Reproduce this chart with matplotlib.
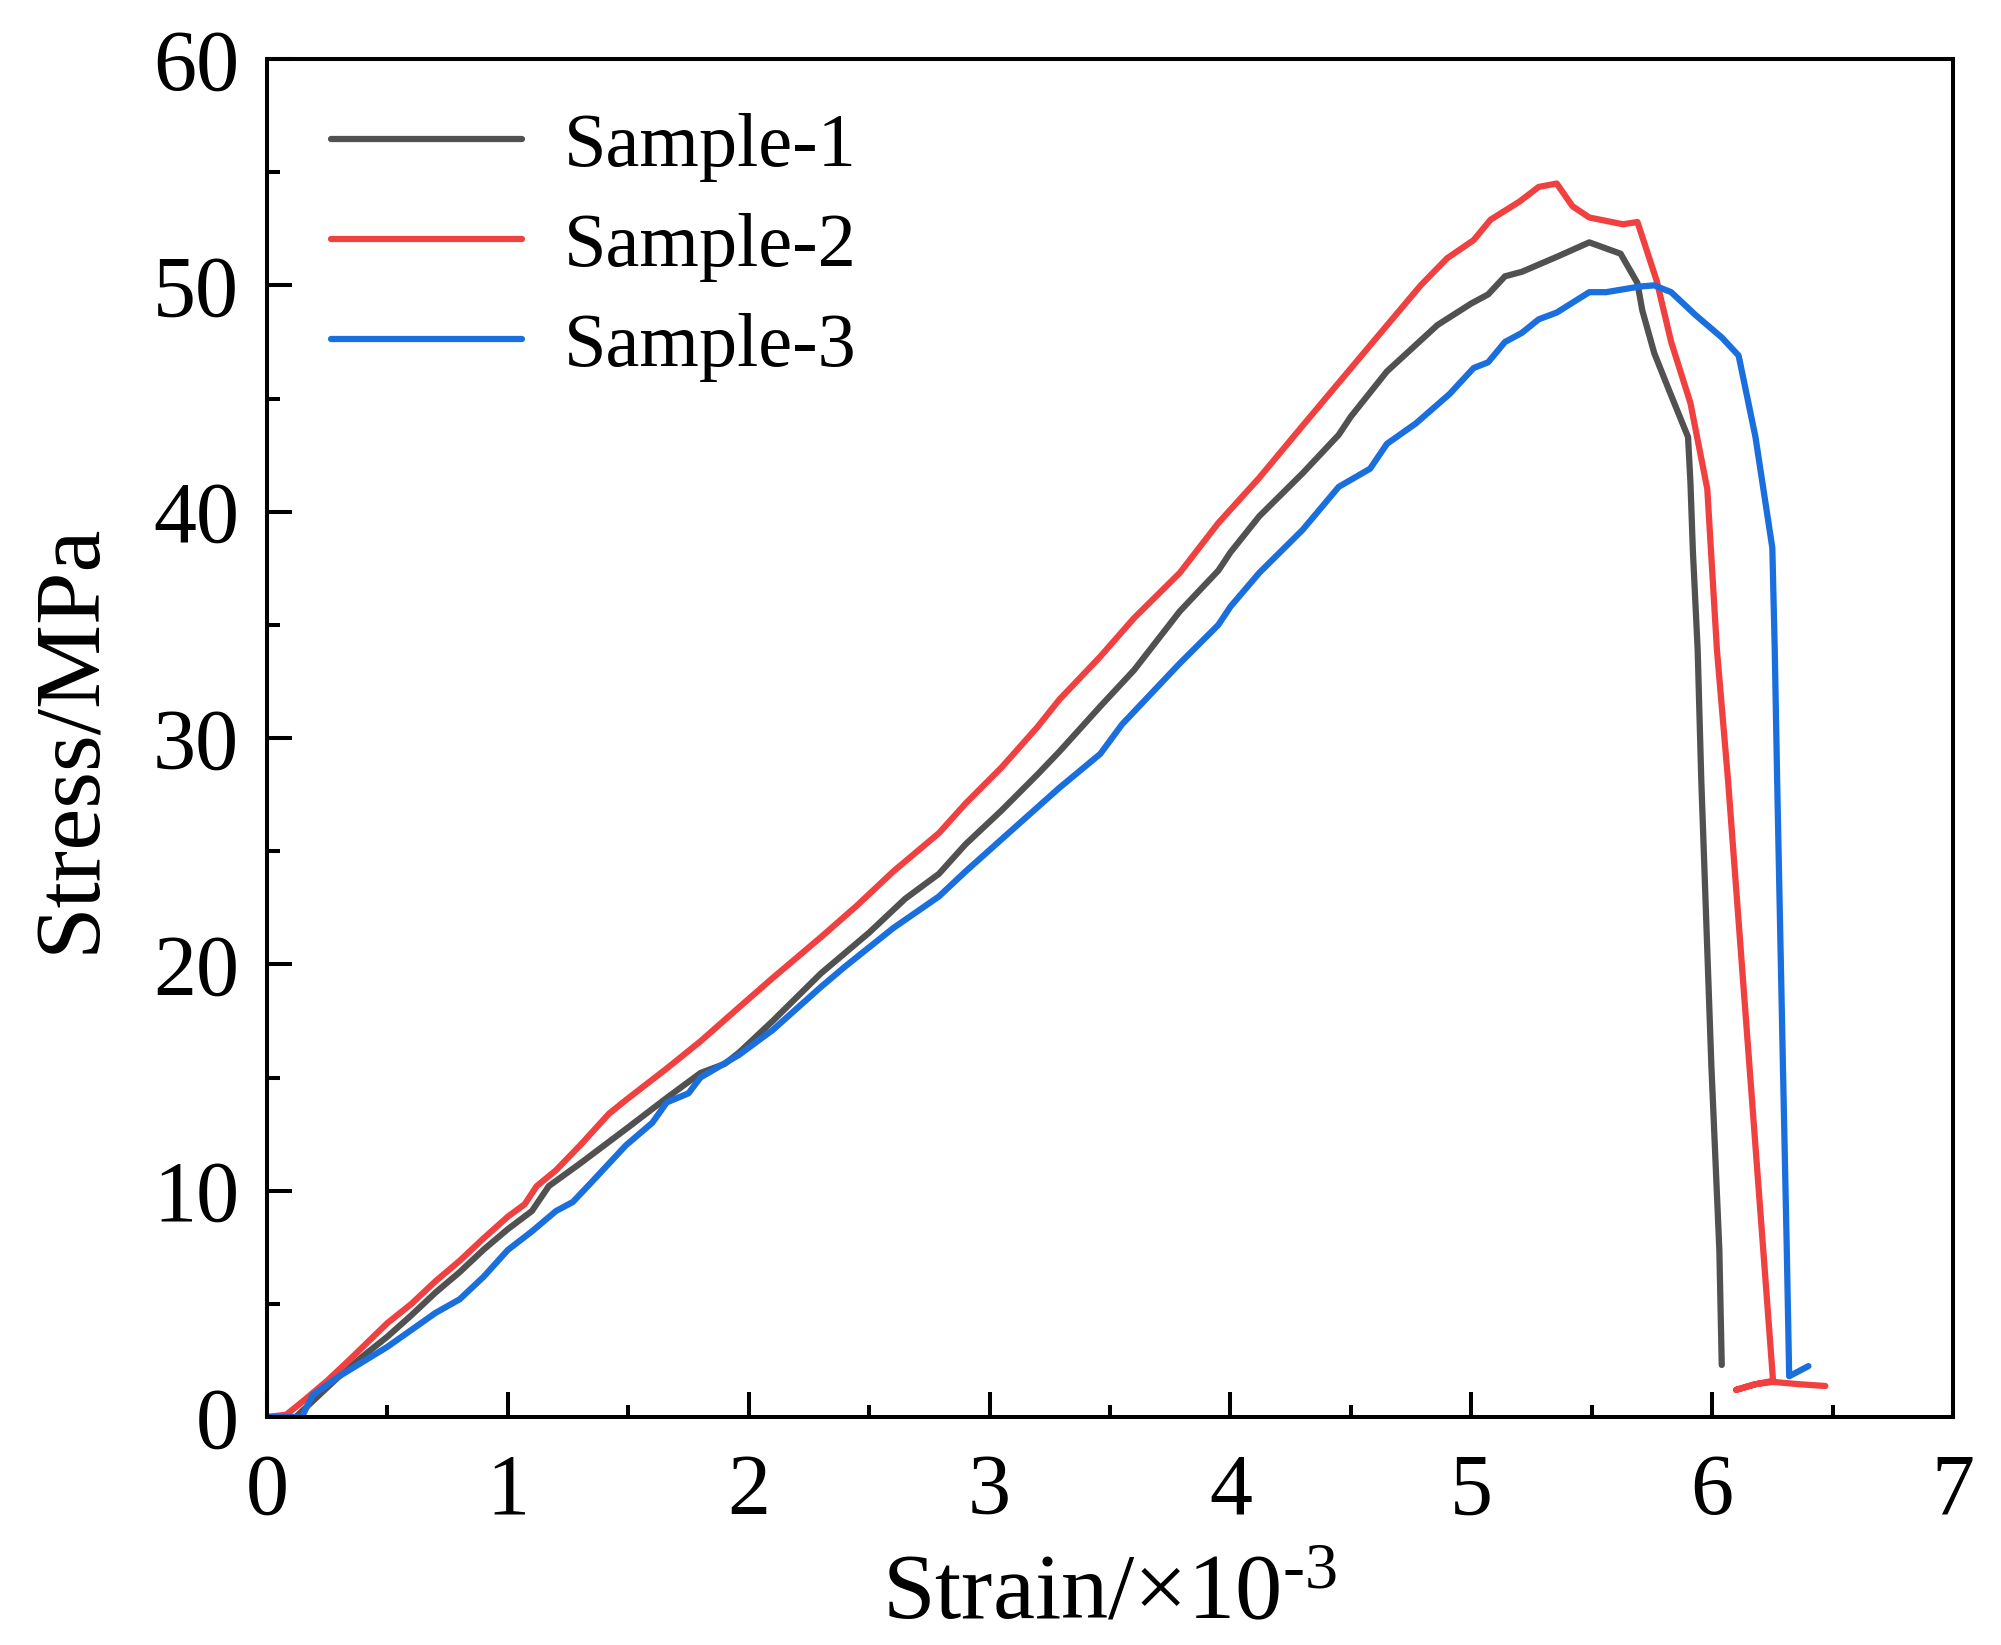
import matplotlib
matplotlib.use("Agg")
import matplotlib.pyplot as plt
from matplotlib.ticker import MultipleLocator

plt.rcParams['font.family'] = ['Liberation Serif', 'DejaVu Serif']
plt.rcParams['mathtext.fontset'] = 'custom'
plt.rcParams['mathtext.rm'] = 'Liberation Serif'
plt.rcParams['mathtext.it'] = 'Liberation Serif:italic'

labels = ["Sample-1", "Sample-2", "Sample-3"]
colors = ["#515151", "#F04040", "#1A6FDF"]

strain_1 = [0, 0.12, 0.2, 0.3, 0.4, 0.5, 0.6, 0.7, 0.8, 0.9, 1.0, 1.1, 1.17, 1.3, 1.4, 1.5, 1.66, 1.8, 1.9,
            1.96, 2.1, 2.3, 2.5, 2.65, 2.79, 2.9, 3.05, 3.2, 3.29, 3.46, 3.6, 3.79, 3.95, 4.0, 4.12, 4.3,
            4.45, 4.5, 4.65, 4.86, 5.0, 5.07, 5.14, 5.21, 5.355, 5.49, 5.62, 5.69, 5.71, 5.76, 5.82, 5.90,
            5.91, 5.92, 5.94, 5.955, 5.997, 6.03, 6.04]
stress_1 = [0, 0, 0.8, 1.8, 2.7, 3.55, 4.5, 5.5, 6.4, 7.4, 8.3, 9.1, 10.2, 11.2, 12.0, 12.8, 14.1, 15.2, 15.6,
            16.1, 17.5, 19.6, 21.4, 22.9, 24.0, 25.3, 26.8, 28.4, 29.4, 31.4, 33.0, 35.6, 37.4, 38.2, 39.8, 41.7,
            43.4, 44.2, 46.2, 48.25, 49.2, 49.6, 50.4, 50.6, 51.26, 51.9, 51.4, 50.1, 48.9, 47.0, 45.4, 43.3,
            41.3, 38.3, 33.9, 28.15, 15.5, 7.4, 2.3]

strain_2 = [0, 0.08, 0.15, 0.25, 0.35, 0.5, 0.6, 0.7, 0.8, 0.9, 1.0, 1.07, 1.12, 1.2, 1.3, 1.42, 1.49, 1.66,
            1.8, 1.96, 2.1, 2.3, 2.45, 2.6, 2.79, 2.9, 3.05, 3.2, 3.29, 3.46, 3.6, 3.79, 3.95, 4.12, 4.3, 4.45,
            4.6, 4.79, 4.9, 5.01, 5.08, 5.2, 5.28, 5.355, 5.42, 5.49, 5.63, 5.69, 5.77, 5.83, 5.91, 5.98, 6.02,
            6.066, 6.253, 6.18, 6.10, 6.18, 6.253, 6.36, 6.47]
stress_2 = [0, 0.1, 0.7, 1.6, 2.6, 4.15, 5.0, 6.0, 6.9, 7.9, 8.85, 9.4, 10.2, 10.9, 12.0, 13.4, 14.0, 15.4,
            16.6, 18.1, 19.4, 21.2, 22.6, 24.1, 25.8, 27.1, 28.7, 30.5, 31.7, 33.6, 35.3, 37.3, 39.5, 41.5, 43.8, 45.7,
            47.6, 50.0, 51.2, 52.0, 52.9, 53.7, 54.35, 54.5, 53.5, 53.0, 52.7, 52.8, 50.2, 47.5, 44.8, 41.0, 33.9,
            28.15, 1.6, 1.45, 1.2, 1.45, 1.55, 1.45, 1.37]

strain_3 = [0, 0.145, 0.19, 0.3, 0.5, 0.7, 0.8, 0.9, 1.0, 1.1, 1.2, 1.27, 1.35, 1.49, 1.6, 1.66, 1.75, 1.8,
            1.96, 2.1, 2.3, 2.4, 2.6, 2.79, 2.9, 3.1, 3.29, 3.46, 3.55, 3.79, 3.95, 4.0, 4.12, 4.3, 4.45, 4.58,
            4.65, 4.77, 4.91, 5.01, 5.07, 5.14, 5.21, 5.28, 5.355, 5.49, 5.56, 5.70, 5.76, 5.83, 5.93, 6.04,
            6.11, 6.18, 6.25, 6.26, 6.27, 6.294, 6.31, 6.32, 6.40]
stress_3 = [0, 0, 0.97, 1.8, 3.1, 4.6, 5.2, 6.2, 7.38, 8.2, 9.1, 9.5, 10.4, 12.0, 13.0, 13.9, 14.3, 15.0,
            16.0, 17.1, 19.0, 19.9, 21.6, 23.0, 24.1, 26.0, 27.8, 29.3, 30.6, 33.3, 35.0, 35.8, 37.3, 39.2, 41.1, 41.9,
            43.0, 43.9, 45.2, 46.35, 46.6, 47.5, 47.9, 48.5, 48.8, 49.7, 49.7, 49.95, 50.0, 49.7, 48.7, 47.7,
            46.9, 43.3, 38.4, 33.9, 28.15, 15.5, 7.4, 1.8, 2.25]

series = [(strain_1, stress_1), (strain_2, stress_2), (strain_3, stress_3)]

fig = plt.figure(figsize=(20.01, 16.45), dpi=100)
ax = fig.add_axes([0.1334, 0.1386, 0.976 - 0.1334, 0.9641 - 0.1386])

LW = 4.5
for (xs, ys), lab, c in zip(series, labels, colors):
    ax.plot(xs, ys, color=c, lw=LW, label=lab, solid_joinstyle='round', solid_capstyle='round')

ax.set_xlim(0, 7)
ax.set_ylim(0, 60)
ax.xaxis.set_major_locator(MultipleLocator(1))
ax.xaxis.set_minor_locator(MultipleLocator(0.5))
ax.yaxis.set_major_locator(MultipleLocator(10))
ax.yaxis.set_minor_locator(MultipleLocator(5))
ax.tick_params(which='both', direction='in', top=False, right=False, width=2.9, labelsize=62)
ax.tick_params(which='major', length=18)
ax.tick_params(which='minor', length=9)
ax.tick_params(axis='x', which='major', pad=26)
ax.tick_params(axis='y', which='major', pad=20)
for s in ax.spines.values():
    s.set_linewidth(2.9)

ax.set_xlabel(r'Strain/×10$^{\text{-3}}$', fontsize=68, labelpad=15)
ax.set_ylabel('Stress/MPa', fontsize=68, labelpad=28)

leg = ax.legend(loc='upper left', bbox_to_anchor=(0.02, 0.983), frameon=False, fontsize=55,
                handlelength=2.5, handletextpad=0.55, labelspacing=0.4, borderaxespad=0)
for line in leg.get_lines():
    line.set_linewidth(LW)

fig.savefig("out.png", dpi=100, facecolor='white')
